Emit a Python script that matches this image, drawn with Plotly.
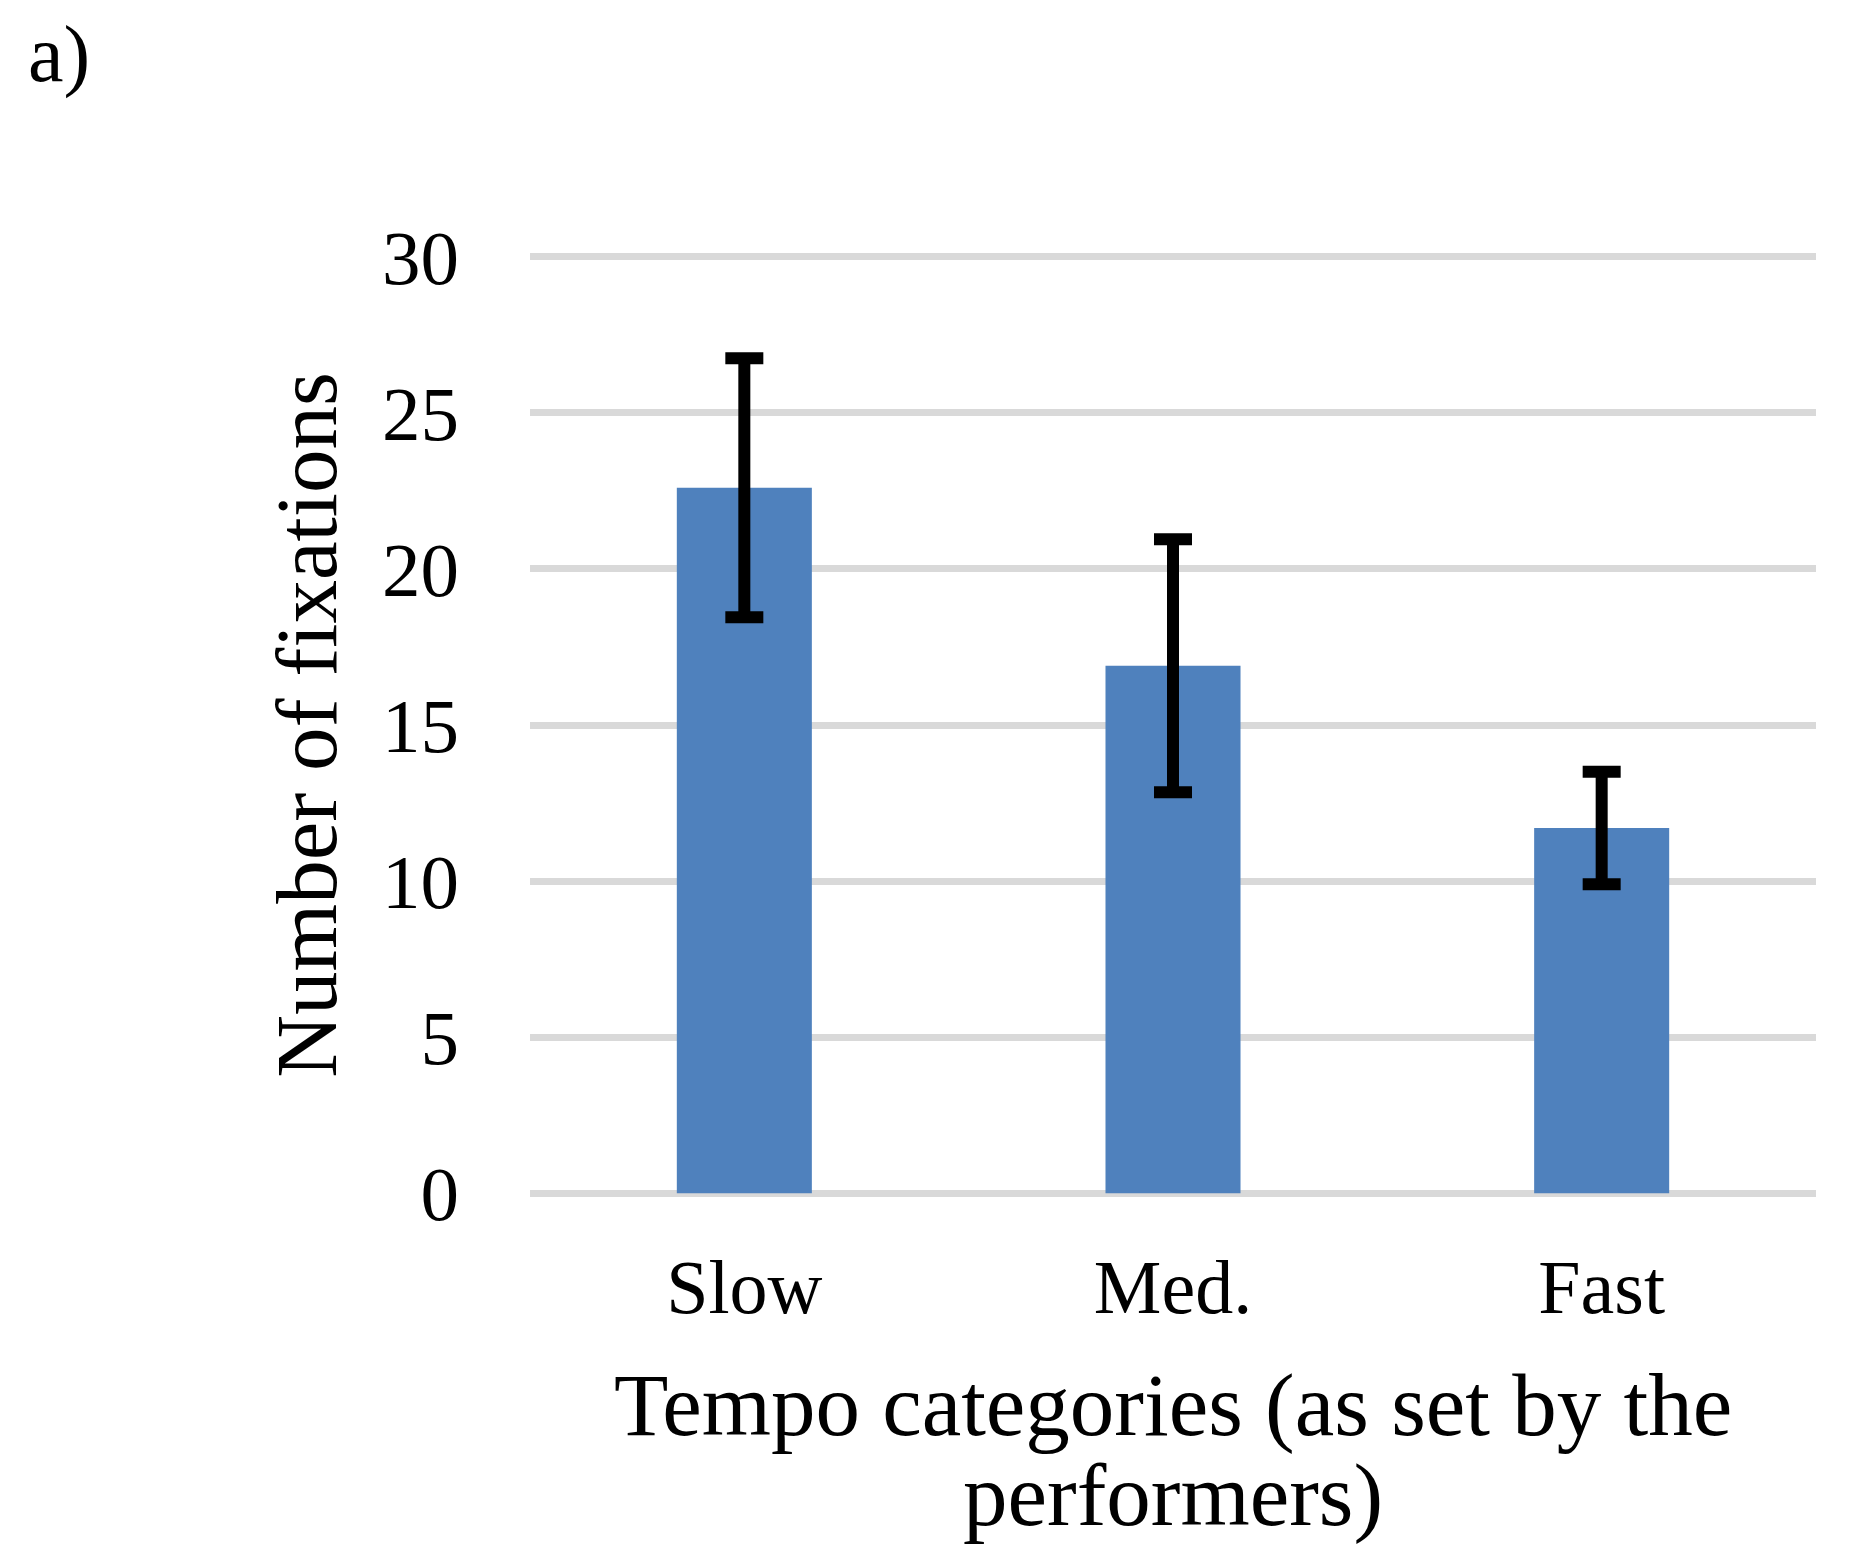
import plotly.graph_objects as go

# tempo categories and mean fixation counts
tempo = ['Slow', 'Med.', 'Fast']
fixations = [22.6, 16.9, 11.7]
fix_err = [4.15, 4.05, 1.8]
y_ticks = [0, 5, 10, 15, 20, 25, 30]

W, H = 1859, 1567
FONT = 'Liberation Serif'

# plot box in figure pixels (page body adds an 8px offset on screen)
L, R, T, B = 522, 51, 244, 377
PH = H - T - B
PW = W - L - R


def py(p):
    # figure pixel row -> paper y
    return (H - B - p) / PH


def px(p):
    return (p - L) / PW


fig = go.Figure()
fig.add_trace(go.Bar(
    x=tempo,
    y=fixations,
    marker=dict(color='#4F81BD', line=dict(width=0)),
    error_y=dict(type='data', array=fix_err, visible=True,
                 color='black', thickness=12, width=19),
    showlegend=False
))

fig.update_layout(
    width=W, height=H,
    margin=dict(l=L, r=R, t=T, b=B),
    paper_bgcolor='white',
    plot_bgcolor='white',
    bargap=0.685,
    font=dict(family=FONT, color='black'),
    xaxis=dict(
        showgrid=False, showline=False, zeroline=False,
        tickfont=dict(size=76, family=FONT),
        ticklabelstandoff=38,
    ),
    yaxis=dict(
        range=[-0.15, 30.15],
        tickvals=y_ticks,
        showgrid=True, gridcolor='#D9D9D9', gridwidth=7,
        zeroline=False, showline=False,
        tickfont=dict(size=77, family=FONT),
        ticklabelstandoff=70,
        title=dict(text='Number of fixations',
                   font=dict(size=87, family=FONT), standoff=16),
    ),
    annotations=[
        dict(text='a)', xref='paper', yref='paper',
             x=px(18), y=py(0), xanchor='left', yanchor='top',
             showarrow=False, font=dict(size=80, family=FONT)),
        dict(text='Tempo categories (as set by the', xref='paper', yref='paper',
             x=0.5, y=py(1346), xanchor='center', yanchor='top',
             showarrow=False, font=dict(size=89, family=FONT)),
        dict(text='performers)', xref='paper', yref='paper',
             x=0.5, y=py(1436), xanchor='center', yanchor='top',
             showarrow=False, font=dict(size=89, family=FONT)),
    ]
)

fig.write_html("out.html")
